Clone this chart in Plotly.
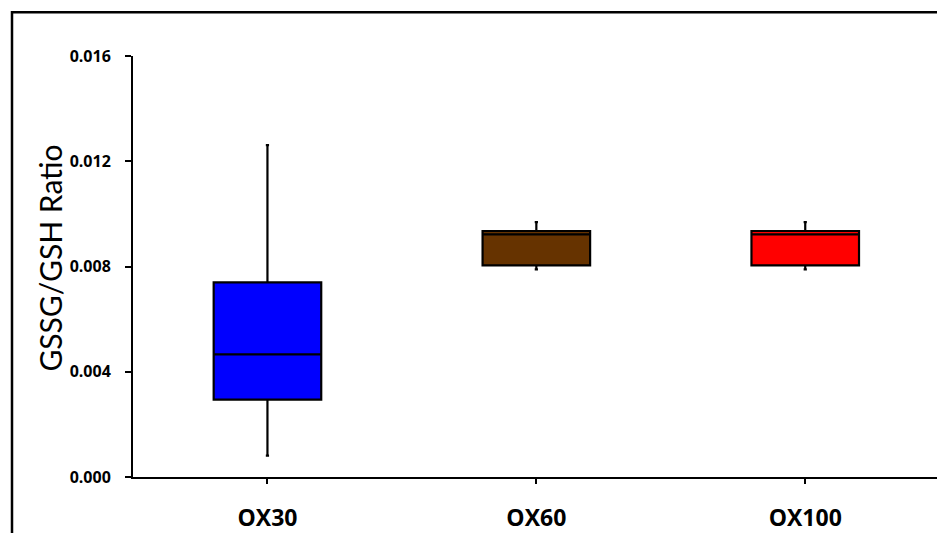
import plotly.graph_objects as go

categories = ["OX30", "OX60", "OX100"]
lower_whisker = [0.00081, 0.00789, 0.00789]
q1_values = [0.00294, 0.00804, 0.00804]
median_values = [0.00466, 0.00922, 0.00922]
q3_values = [0.00740, 0.00935, 0.00935]
upper_whisker = [0.01261, 0.00969, 0.00969]
box_colors = ["#0000FF", "#663300", "#FF0000"]
y_ticks = [0.000, 0.004, 0.008, 0.012, 0.016]

fig = go.Figure()
for i, cat in enumerate(categories):
    fig.add_trace(go.Box(
        x=[cat],
        q1=[q1_values[i]],
        median=[median_values[i]],
        q3=[q3_values[i]],
        lowerfence=[lower_whisker[i]],
        upperfence=[upper_whisker[i]],
        fillcolor=box_colors[i],
        line=dict(color="black", width=2.2),
        width=0.4,
        whiskerwidth=0.03,
        boxpoints=False,
        showlegend=False,
        hoverinfo="skip",
    ))

W, H = 937, 533
ml, mr, mt, mb = 133, 0, 55.5, 50.5
pw, ph = W - ml - mr, H - mt - mb

def px_x(p):
    return (p - ml) / pw

def px_y(p):
    return (H - mb - p) / ph

fig.update_layout(
    width=W, height=H,
    margin=dict(l=ml, r=mr, t=mt, b=mb, pad=0),
    paper_bgcolor="white", plot_bgcolor="white",
    xaxis=dict(
        type="category",
        categoryorder="array", categoryarray=categories,
        range=[-0.5, 2.49],
        showline=True, linecolor="black", linewidth=2,
        ticks="outside", ticklen=5, tickwidth=2, tickcolor="black",
        showgrid=False, zeroline=False,
        tickfont=dict(family="Open Sans", size=23, color="black", weight="bold"),
        ticklabelstandoff=14,
    ),
    yaxis=dict(
        range=[0, 0.016],
        tickvals=y_ticks,
        tickformat=".3f",
        showline=True, linecolor="black", linewidth=2,
        ticks="outside", ticklen=6, tickwidth=2, tickcolor="black",
        showgrid=False, zeroline=False,
        tickfont=dict(family="Open Sans", size=16, color="black", weight="bold"),
        ticklabelstandoff=11,
    ),
    annotations=[dict(
        text="GSSG/GSH Ratio",
        xref="paper", yref="paper",
        x=px_x(50), y=px_y(261),
        xanchor="center", yanchor="middle",
        textangle=-90, showarrow=False,
        font=dict(family="Lato", size=30, color="black"),
    )],
    shapes=[
        dict(type="rect", xref="paper", yref="paper",
             x0=px_x(12), x1=px_x(980), y0=px_y(580), y1=px_y(11),
             line=dict(color="black", width=2.5),
             fillcolor="rgba(0,0,0,0)", layer="below"),
    ],
)

fig.write_html(
    "out.html",
    config={"displayModeBar": False},
    post_script=(
        "document.body.style.margin='0';"
        "document.body.style.overflow='hidden';"
        "document.documentElement.style.overflow='hidden';"
    ),
)
